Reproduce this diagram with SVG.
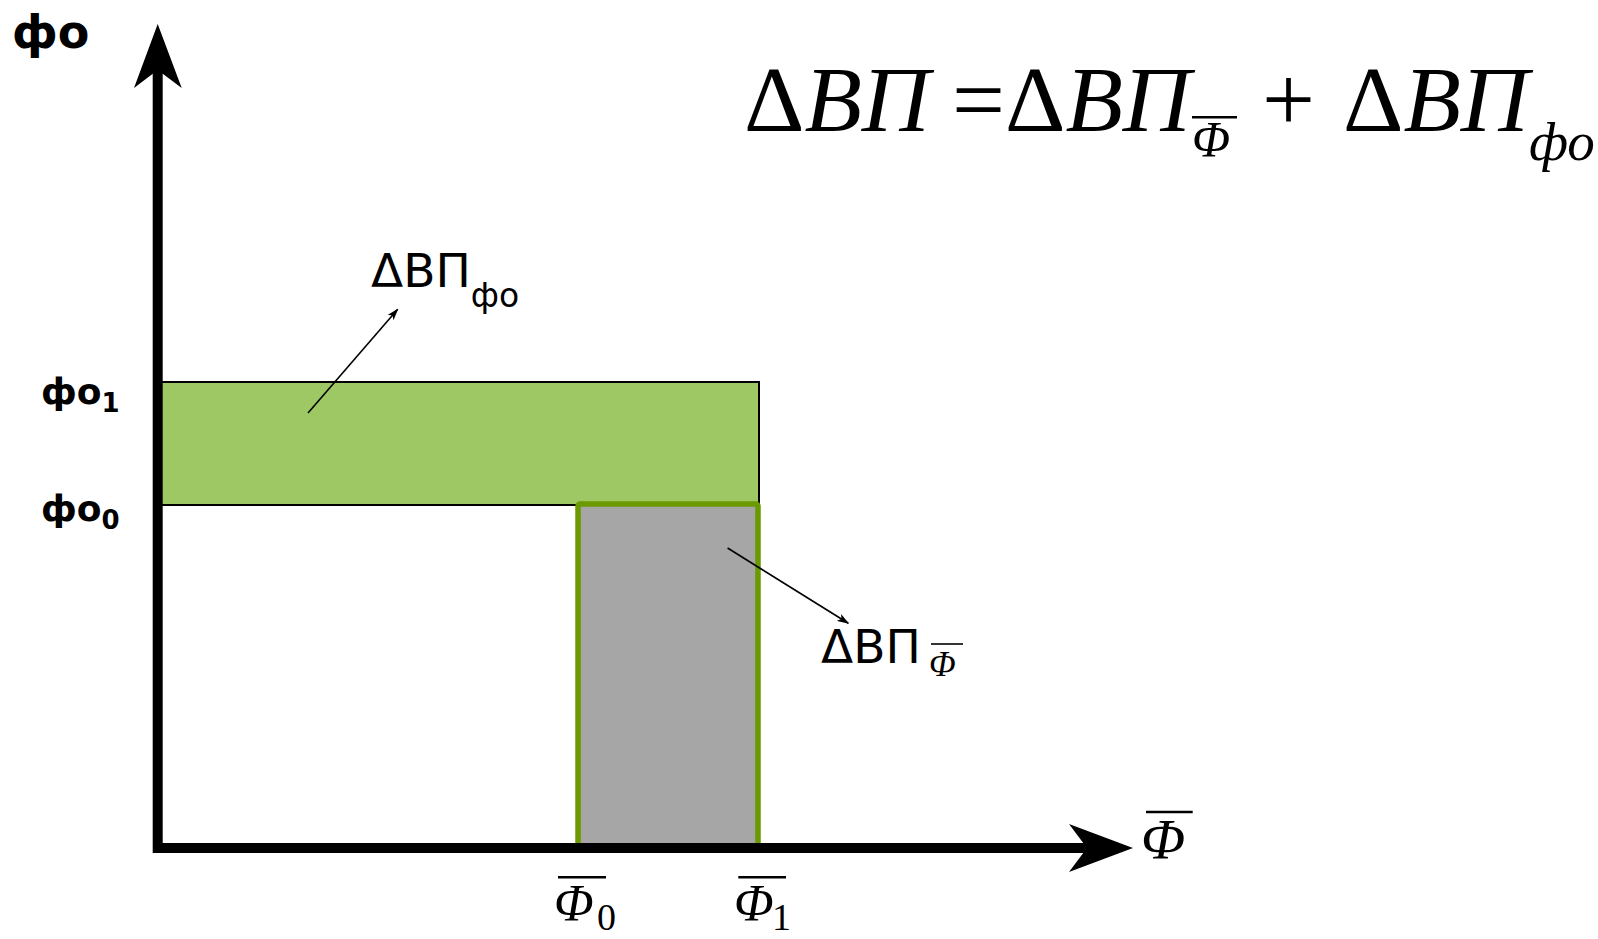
<svg xmlns="http://www.w3.org/2000/svg" width="1598" height="939" viewBox="0 0 1598 939">
<style>
.serif{font-family:"Liberation Serif","Times New Roman",serif;fill:#000}
.it{font-style:italic}
.sans{font-family:"DejaVu Sans",Verdana,sans-serif;fill:#000}
.bold{font-family:"DejaVu Sans",Verdana,sans-serif;font-weight:bold;fill:#000}
.bar{stroke:#000;stroke-width:2.5}
.thin{stroke:#000;stroke-width:1.6;fill:none;marker-end:url(#ah)}
</style>
<defs>
<marker id="ah" markerWidth="12" markerHeight="8" refX="11" refY="4" orient="auto" markerUnits="userSpaceOnUse">
<path d="M0,0 L12,4 L0,8 L3,4 z" fill="#000"/>
</marker>
</defs>
<rect width="1598" height="939" fill="#fff"/>

<g id="area-fo">
<rect x="158" y="382" width="601" height="123" fill="#9DC863" stroke="#000" stroke-width="2"/>
</g>
<g id="area-phi">
<rect x="578" y="504" width="180" height="344" rx="2" fill="#A6A6A6" stroke="#6A9900" stroke-width="5.5"/>
</g>

<g id="axes">
<line x1="157.7" y1="70" x2="157.7" y2="853" stroke="#000" stroke-width="10"/>
<path d="M157.7,24 L181.7,88 L157.7,70 L134,88 z" fill="#000"/>
<line x1="153" y1="848" x2="1088" y2="848" stroke="#000" stroke-width="10"/>
<path d="M1133,848 L1069,872 L1087,848 L1069,824 z" fill="#000"/>
</g>

<g id="connectors">
<line class="thin" x1="308" y1="413" x2="397.7" y2="309.3"/>
<line class="thin" x1="727.6" y1="548" x2="848.3" y2="623.3"/>
</g>

<g id="axis-label-fo"><text class="bold" x="12" y="48" font-size="46">фо</text></g>
<g id="label-fo1"><text class="bold" x="41" y="404" font-size="36">фо<tspan font-size="26" dy="8">1</tspan></text></g>
<g id="label-fo0"><text class="bold" x="41" y="521" font-size="36">фо<tspan font-size="26" dy="8">0</tspan></text></g>

<g id="axis-label-phi">
<line class="bar" x1="1146" y1="812" x2="1192.7" y2="812"/>
<text class="serif it" x="1141" y="859" font-size="58">Φ</text>
</g>
<g id="label-phi0">
<line class="bar" x1="558" y1="877.3" x2="606" y2="877.3"/>
<text class="serif it" x="554" y="921" font-size="52">Φ</text>
<text class="serif" x="597" y="930" font-size="38">0</text>
</g>
<g id="label-phi1">
<line class="bar" x1="738.3" y1="877.3" x2="786" y2="877.3"/>
<text class="serif it" x="734" y="921" font-size="52">Φ</text>
<text class="serif" x="772" y="930" font-size="38">1</text>
</g>

<g id="label-dvp-fo">
<text class="sans" x="371" y="287" font-size="47">ΔВП<tspan font-size="33" dy="20">фо</tspan></text>
</g>
<g id="label-dvp-phi">
<text class="sans" x="821" y="663" font-size="47">ΔВП</text>
<line stroke="#000" stroke-width="1.6" x1="931" y1="644" x2="963" y2="644"/>
<text class="serif it" x="929" y="676" font-size="35">Φ</text>
</g>

<g id="formula">
<text class="serif" x="744" y="131" font-size="94">Δ<tspan class="it">ВП</tspan></text>
<text class="serif" x="952" y="131" font-size="94">=</text>
<text class="serif" x="1005" y="131" font-size="94">Δ<tspan class="it">ВП</tspan></text>
<line class="bar" x1="1192" y1="117.3" x2="1237" y2="117.3"/>
<text class="serif it" x="1192" y="156" font-size="50">Φ</text>
<text class="serif" x="1262" y="131" font-size="94">+</text>
<text class="serif" x="1343" y="131" font-size="94">Δ<tspan class="it">ВП</tspan></text>
<text class="serif it" x="1529" y="160" font-size="55">фо</text>
</g>
</svg>
